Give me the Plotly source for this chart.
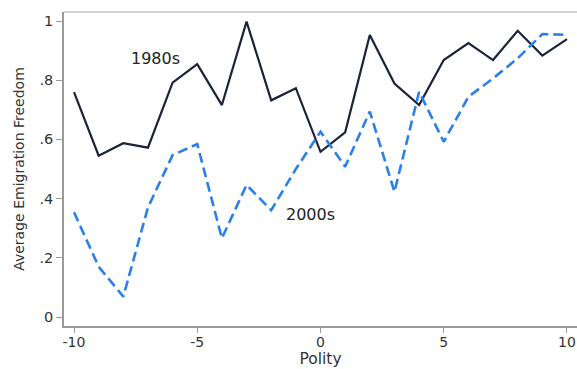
import plotly.graph_objects as go

polity = list(range(-10, 11))
freedom_1980s = [0.760, 0.545, 0.587, 0.572, 0.792, 0.854, 0.716, 0.998, 0.732, 0.773,
                 0.558, 0.624, 0.953, 0.789, 0.716, 0.868, 0.925, 0.868, 0.967, 0.883, 0.939]
freedom_2000s = [0.354, 0.170, 0.069, 0.370, 0.547, 0.584, 0.266, 0.446, 0.361, 0.500,
                 0.626, 0.508, 0.694, 0.423, 0.761, 0.592, 0.744, 0.806, 0.874, 0.956, 0.953]

x_tickvals = [-10, -5, 0, 5, 10]
x_ticktext = ["-10", "-5", "0", "5", "10"]
y_tickvals = [0, 0.2, 0.4, 0.6, 0.8, 1.0]
y_ticktext = ["0", ".2", ".4", ".6", ".8", "1"]

label_1980s = ("1980s", -6.7, 0.875)
label_2000s = ("2000s", -0.4, 0.345)

font = "DejaVu Sans, Arial, sans-serif"
fig = go.Figure()
fig.add_trace(go.Scatter(x=polity, y=freedom_1980s, mode="lines",
                         line=dict(color="#1c2238", width=2.2), name="1980s"))
fig.add_trace(go.Scatter(x=polity, y=freedom_2000s, mode="lines",
                         line=dict(color="#2a7fe8", width=2.6, dash="10px,5px"), name="2000s"))

for txt, xx, yy in [label_1980s, label_2000s]:
    fig.add_annotation(x=xx, y=yy, text=txt, showarrow=False,
                       font=dict(family=font, size=16, color="#222"))

fig.add_shape(type="line", xref="paper", yref="paper", x0=0, x1=1, y0=1, y1=1,
              line=dict(color="#c4c4c4", width=1.5))

fig.update_layout(
    width=577, height=369,
    margin=dict(l=64, r=0, t=12, b=43),
    plot_bgcolor="white", paper_bgcolor="white",
    showlegend=False,
    font=dict(family=font, size=14, color="#333"),
    xaxis=dict(range=[-10.406, 10.406], tickvals=x_tickvals, ticktext=x_ticktext,
               showgrid=False, zeroline=False, showline=True, linecolor="#9a9a9a",
               linewidth=1.5, ticks="outside", ticklen=5, tickcolor="#9a9a9a",
               ticklabelstandoff=-3,
               tickfont=dict(size=14, color="#333"),
               title=dict(text="Polity", font=dict(size=15.5, color="#333"), standoff=0)),
    yaxis=dict(range=[-0.0304, 1.0304], tickvals=y_tickvals, ticktext=y_ticktext,
               showgrid=False, zeroline=False, showline=True, linecolor="#9a9a9a",
               linewidth=1.5, ticks="outside", ticklen=6, tickcolor="#9a9a9a",
               tickfont=dict(size=14.5, color="#333"),
               title=dict(text="Average Emigration Freedom", font=dict(size=14, color="#333"),
                          standoff=12)),
)

fig.write_html("out.html")
